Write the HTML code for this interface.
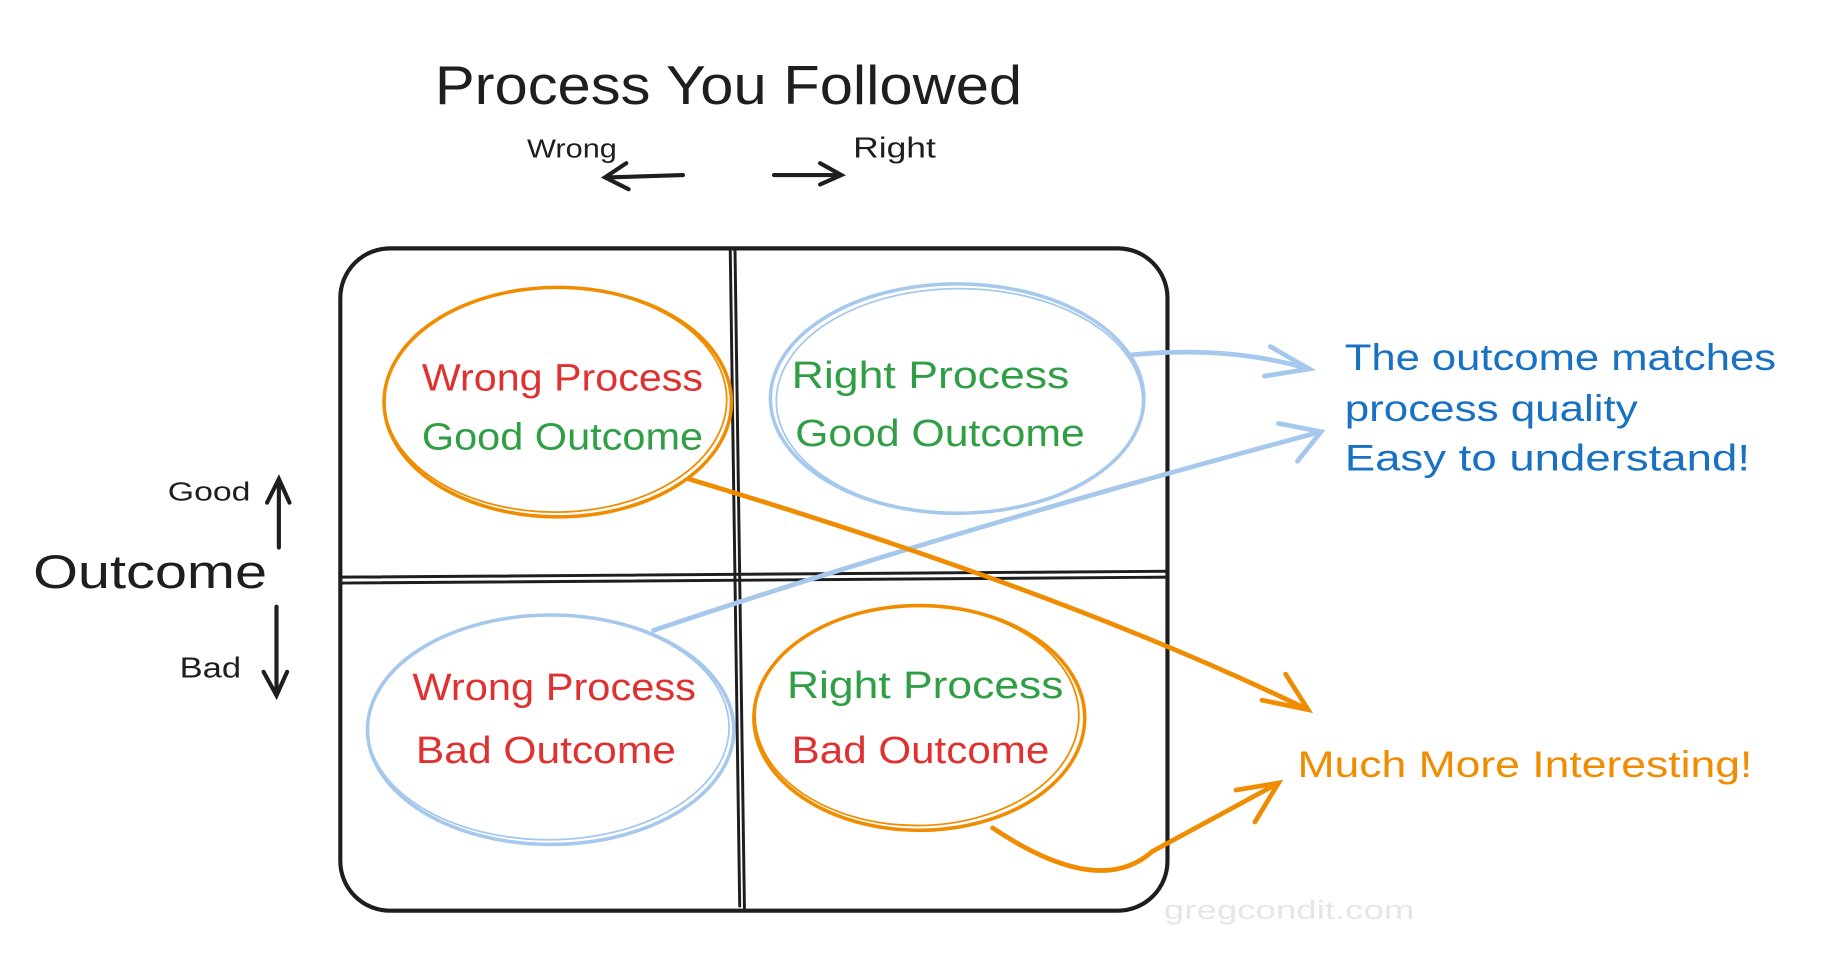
<!DOCTYPE html>
<html><head><style>
html,body{margin:0;padding:0;background:#fff;width:1828px;height:958px;overflow:hidden}
svg{display:block}
text{font-family:"Liberation Sans",sans-serif}
</style></head><body>
<svg width="1828" height="958" viewBox="0 0 1547 810" preserveAspectRatio="none" xmlns="http://www.w3.org/2000/svg">
<rect width="1547" height="810" fill="#fff"/>
<text x="368" y="88" font-size="46" fill="#1e1e1e" textLength="497" lengthAdjust="spacingAndGlyphs">Process You Followed</text>
<text x="446" y="133" font-size="22" fill="#1e1e1e" textLength="76" lengthAdjust="spacingAndGlyphs">Wrong</text>
<text x="722" y="133" font-size="24" fill="#1e1e1e" textLength="70" lengthAdjust="spacingAndGlyphs">Right</text>
<g stroke="#1e1e1e" stroke-width="3.5" fill="none" stroke-linecap="round">
<path d="M578 148 L514 150 M530 138 L512 150 L532 160"/>
<path d="M655 148 L712 148 M694 138 L712 148 L694 156"/>
<path d="M236 463 L236 406 M226 425 L236 405 L245 425"/>
<path d="M234 513 L234 588 M223 568 L234 588 L243 568"/>
<rect x="288" y="210" width="700" height="560" rx="42"/>
<path d="M622 210 L630 768 M618 212 L626 766" stroke-width="2.5"/>
<path d="M288 488 L988 483 M288 493 L988 488" stroke-width="2.5"/>
</g>
<text x="28" y="497" font-size="40" fill="#1e1e1e" textLength="198" lengthAdjust="spacingAndGlyphs">Outcome</text>
<text x="142" y="423" font-size="22" fill="#1e1e1e" textLength="70" lengthAdjust="spacingAndGlyphs">Good</text>
<text x="152" y="573" font-size="24" fill="#1e1e1e" textLength="52" lengthAdjust="spacingAndGlyphs">Bad</text>
<g fill="none" stroke-width="3">
<ellipse cx="472" cy="340" rx="147" ry="97" stroke="#f08c00"/>
<ellipse cx="470" cy="338" rx="145" ry="95" stroke="#f08c00" stroke-width="1.5"/>
<ellipse cx="810" cy="337" rx="158" ry="97" stroke="#a5c8ec"/>
<ellipse cx="812" cy="339" rx="155" ry="95" stroke="#a5c8ec" stroke-width="1.5"/>
<ellipse cx="466" cy="617" rx="155" ry="97" stroke="#a5c8ec"/>
<ellipse cx="464" cy="615" rx="153" ry="95" stroke="#a5c8ec" stroke-width="1.5"/>
<ellipse cx="778" cy="607" rx="140" ry="95" stroke="#f08c00"/>
<ellipse cx="776" cy="605" rx="137" ry="93" stroke="#f08c00" stroke-width="1.5"/>
<path d="M958 300 Q1040 292 1108 312 M1075 293 L1108 312 L1070 318" stroke="#a5c8ec" stroke-width="4" stroke-linecap="round"/>
<path d="M553 533 Q800 450 1118 365 M1082 358 L1118 365 L1098 390" stroke="#a5c8ec" stroke-width="4" stroke-linecap="round"/>
<path d="M583 405 Q900 500 1107 600 M1088 570 L1107 600 L1068 592" stroke="#f08c00" stroke-width="4" stroke-linecap="round"/>
<path d="M840 700 Q930 760 975 720 L1082 662 M1046 668 L1082 662 L1062 695" stroke="#f08c00" stroke-width="4" stroke-linecap="round"/>
</g>
<g font-size="32" lengthAdjust="spacingAndGlyphs">
<text x="357" y="330" fill="#e03131" textLength="238" lengthAdjust="spacingAndGlyphs">Wrong Process</text>
<text x="357" y="380" fill="#2f9e44" textLength="238" lengthAdjust="spacingAndGlyphs">Good Outcome</text>
<text x="670" y="328" fill="#2f9e44" textLength="235" lengthAdjust="spacingAndGlyphs">Right Process</text>
<text x="673" y="377" fill="#2f9e44" textLength="245" lengthAdjust="spacingAndGlyphs">Good Outcome</text>
<text x="349" y="592" fill="#e03131" textLength="240" lengthAdjust="spacingAndGlyphs">Wrong Process</text>
<text x="352" y="645" fill="#e03131" textLength="220" lengthAdjust="spacingAndGlyphs">Bad Outcome</text>
<text x="666" y="590" fill="#2f9e44" textLength="234" lengthAdjust="spacingAndGlyphs">Right Process</text>
<text x="670" y="645" fill="#e03131" textLength="218" lengthAdjust="spacingAndGlyphs">Bad Outcome</text>
</g>
<g font-size="31" fill="#1971c2">
<text x="1138" y="313" textLength="365" lengthAdjust="spacingAndGlyphs">The outcome matches</text>
<text x="1138" y="356" textLength="248" lengthAdjust="spacingAndGlyphs">process quality</text>
<text x="1138" y="398" textLength="343" lengthAdjust="spacingAndGlyphs">Easy to understand!</text>
</g>
<text x="1098" y="657" font-size="31" fill="#f08c00" textLength="385" lengthAdjust="spacingAndGlyphs">Much More Interesting!</text>
<text x="985" y="777" font-size="22" fill="#e6e6e6" font-family="Liberation Mono, monospace" textLength="212" lengthAdjust="spacingAndGlyphs">gregcondit.com</text>
</svg>
</body></html>
